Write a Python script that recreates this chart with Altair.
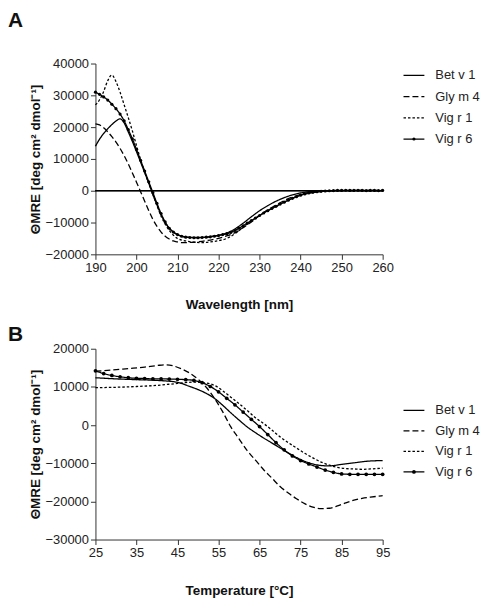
import altair as alt
import pandas as pd

FONT = "Liberation Sans"
series = ["Bet v 1", "Gly m 4", "Vig r 1", "Vig r 6"]
dash_range = [[1, 0], [6, 3], [2.5, 2], [1, 0]]

# ---------------- Panel A : far-UV CD spectra ----------------
a_bet_x = [190, 191, 192, 193, 194, 195, 196, 197, 198, 199, 200, 201, 202, 203, 204, 205, 206, 207, 208, 209,
           210, 212, 214, 216, 218, 220, 222, 224, 226, 228, 230, 232, 234, 236, 238, 240, 242, 244, 246, 250, 255, 260]
a_bet_y = [14000, 16200, 18000, 19500, 20800, 21900, 22600, 21300, 18500, 15500, 12300, 9000, 5700, 2300, -1200,
           -4500, -7500, -10000, -11800, -13000, -13800, -14500, -14700, -14700, -14400, -14000, -13300, -12000,
           -10200, -8200, -6300, -4700, -3300, -2200, -1300, -700, -300, -100, 0, 50, 50, 50]

a_gly_x = [190, 191, 192, 193, 194, 195, 196, 197, 198, 199, 200, 201, 202, 203, 204, 205, 206, 207, 208, 209,
           210, 211, 212, 214, 216, 218, 220, 222, 224, 226, 228, 230, 232, 234, 236, 238, 240, 242, 244, 246, 248,
           250, 255, 260]
a_gly_y = [21000, 20700, 19800, 18500, 17000, 15300, 13300, 11000, 8400, 5600, 2700, -300, -3300, -6300, -9000,
           -11200, -13000, -14300, -15200, -15800, -16100, -16300, -16300, -16200, -15900, -15500, -15000, -14200,
           -13200, -11600, -9800, -7800, -6000, -4500, -3100, -2000, -1200, -600, -250, -50, 0, 0, 0, 0]

a_vr1_x = [190, 191, 192, 193, 194, 195, 196, 197, 198, 199, 200, 201, 202, 203, 204, 205, 206, 207, 208, 209,
           210, 212, 214, 216, 218, 220, 222, 224, 226, 228, 230, 232, 234, 236, 238, 240, 242, 244, 246, 248, 250,
           255, 260]
a_vr1_y = [27000, 28600, 31200, 34600, 36400, 34300, 31000, 27000, 23000, 18800, 14200, 9800, 5800, 2300, -1200,
           -4700, -8000, -10500, -12500, -14000, -15000, -15800, -16200, -16300, -16100, -15700, -15000, -13500,
           -11500, -9500, -7800, -6200, -5000, -3600, -2400, -1400, -800, -400, -150, 0, 100, 100, 100]

a_vr6_x = list(range(190, 261))
a_vr6_y = [31000, 30300, 29500, 28500, 27200, 25800, 24100, 22000, 19200, 16300, 13000, 9600, 6200, 2800, -600,
           -4000, -7200, -9800, -11800, -13000, -13800, -14300, -14600, -14700, -14800, -14800, -14700, -14600,
           -14500, -14300, -14100, -13800, -13500, -13100, -12500, -11800, -11000, -10200, -9400, -8600, -7800,
           -7000, -6300, -5600, -4900, -4200, -3600, -3000, -2400, -1900, -1400, -1000, -700, -500, -300, -200,
           -100, 0, 50, 100, 100, 150, 100, 100, 150, 100, 50, 100, 100, 50, 100]

# ---------------- Panel B : thermal unfolding ----------------
b_bet_x = [25, 30, 35, 40, 45, 48, 50, 52, 54, 56, 58, 60, 62, 64, 66, 68, 70, 72, 74, 76, 78, 80, 82, 85, 88, 91, 95]
b_bet_y = [12400, 12100, 11900, 11700, 11200, 10100, 9300, 8300, 7000, 5200, 3200, 1300, -500, -2000, -3400,
           -4700, -6000, -7300, -8500, -9500, -10200, -10600, -10700, -10300, -9900, -9500, -9300]

b_gly_x = [25, 29, 33, 37, 40, 42, 44, 46, 48, 50, 52, 54, 56, 58, 60, 62, 64, 66, 68, 70, 72, 74, 76, 78, 80, 82,
           84, 86, 88, 90, 92, 95]
b_gly_y = [14100, 14400, 14800, 15200, 15600, 15800, 15500, 14700, 13600, 12000, 9900, 7000, 3500, -500, -3600,
           -6700, -9200, -11700, -13900, -16100, -17800, -19300, -20600, -21500, -21900, -21800, -21200, -20400,
           -19700, -19200, -18900, -18500]

b_vr1_x = [25, 30, 35, 40, 45, 49, 52, 54, 56, 58, 60, 62, 64, 66, 68, 70, 72, 74, 76, 78, 80, 82, 84, 86, 88, 90,
           92, 95]
b_vr1_y = [9800, 9900, 10100, 10400, 10900, 11250, 11000, 10400, 9000, 7300, 5600, 3800, 1900, 400, -1300, -3100,
           -4600, -6000, -7400, -8600, -9700, -10500, -11100, -11400, -11500, -11600, -11500, -11300]

b_vr6_x = list(range(25, 96, 2))
b_vr6_y = [14200, 13500, 13000, 12650, 12400, 12250, 12200, 12100, 12100, 12050, 12000, 11900, 11700, 11100,
           10100, 8700, 7000, 5300, 3400, 1500, -400, -2500, -4600, -6500, -8100, -9300, -10200, -11000, -11800,
           -12400, -12800, -12900, -12900, -12900, -12900, -12900]


def long_df(parts):
    rows = []
    for name, xs, ys in parts:
        for x, y in zip(xs, ys):
            rows.append({"series": name, "x": x, "y": y})
    return pd.DataFrame(rows)


df_a = long_df([("Bet v 1", a_bet_x, a_bet_y), ("Gly m 4", a_gly_x, a_gly_y),
                ("Vig r 1", a_vr1_x, a_vr1_y), ("Vig r 6", a_vr6_x, a_vr6_y)])
df_b = long_df([("Bet v 1", b_bet_x, b_bet_y), ("Gly m 4", b_gly_x, b_gly_y),
                ("Vig r 1", b_vr1_x, b_vr1_y), ("Vig r 6", b_vr6_x, b_vr6_y)])
df_leg = pd.DataFrame({"series": series})

W, H = 289, 192

axis_common = dict(
    labelFont=FONT, labelFontSize=13, labelColor="#222", titleFont=FONT, titleFontSize=13.5,
    titleFontWeight="bold", titleColor="#111", domainColor="#333", tickColor="#333", tickSize=5,
    grid=False, labelPadding=2, labelOverlap=False, labelFlush=False, format="d",
)


def panel(df, xtitle, ydom, yticks, xdom, xticks, leg_range, zero_line, label, dot_size, title_offset):
    x_scale = alt.Scale(domain=xdom, nice=False, zero=False)
    y_scale = alt.Scale(domain=ydom, nice=False, zero=False)
    x_axis = alt.Axis(values=xticks, title=xtitle, titlePadding=24, **axis_common)
    y_axis = alt.Axis(values=yticks, title="ΘMRE [deg cm² dmol⁻¹]", titlePadding=3, **axis_common)
    x_enc = alt.X("x:Q", scale=x_scale, axis=x_axis)
    y_enc = alt.Y("y:Q", scale=y_scale, axis=y_axis)
    dash = alt.StrokeDash("series:N", scale=alt.Scale(domain=series, range=dash_range), legend=None)
    lines = alt.Chart(df).mark_line(color="black", strokeWidth=1.3, interpolate="monotone").encode(
        x=x_enc, y=y_enc, strokeDash=dash)
    dots = alt.Chart(df).transform_filter(alt.datum.series == "Vig r 6").mark_point(
        filled=True, color="black", opacity=1, size=dot_size).encode(x=x_enc, y=y_enc)
    layers = [lines, dots]
    if zero_line:
        layers.append(alt.Chart(df_leg).mark_rule(color="black", strokeWidth=1).encode(
            y=alt.Y(datum=0, type="quantitative", scale=y_scale, axis=y_axis)))
    data_layer = alt.layer(*layers)

    ly = alt.Y("series:N", scale=alt.Scale(type="point", domain=series, range=leg_range, padding=0), axis=None)
    leg_rule = alt.Chart(df_leg).mark_rule(color="black", strokeWidth=1.3).encode(
        x=alt.value(W + 21), x2=alt.value(W + 42), y=ly, strokeDash=dash)
    leg_dot = alt.Chart(df_leg).transform_filter(alt.datum.series == "Vig r 6").mark_point(
        filled=True, color="black", opacity=1, size=dot_size).encode(x=alt.value(W + 31.5), y=ly)
    leg_text = alt.Chart(df_leg).mark_text(align="left", baseline="middle", font=FONT, fontSize=13,
                                           color="#222").encode(x=alt.value(W + 53), y=ly, text="series:N")
    legend_layer = alt.layer(leg_rule, leg_dot, leg_text)

    return alt.layer(data_layer, legend_layer).resolve_scale(y="independent").properties(
        width=W, height=H,
        title=alt.TitleParams(label, anchor="start", frame="group", dx=-88, fontSize=21, font=FONT,
                              fontWeight="bold", color="#111", baseline="alphabetic", offset=title_offset),
    )


chart_a = panel(df_a, "Wavelength [nm]", [-20000, 40000], list(range(-20000, 40001, 10000)),
                [190, 260], list(range(190, 261, 10)), [12, 76], True, "A", 10, 10)
chart_b = panel(df_b, "Temperature [°C]", [-30000, 20000], list(range(-30000, 20001, 10000)),
                [25, 95], list(range(25, 96, 10)), [62, 124], False, "B", 14, -19)

chart = alt.vconcat(chart_a, chart_b, spacing=12).properties(
    padding={"left": 0, "top": 0, "right": 5, "bottom": 5}
).configure_view(stroke=None).configure_concat(spacing=12)

chart.save("out.html", embed_options={"renderer": "svg", "actions": False})
